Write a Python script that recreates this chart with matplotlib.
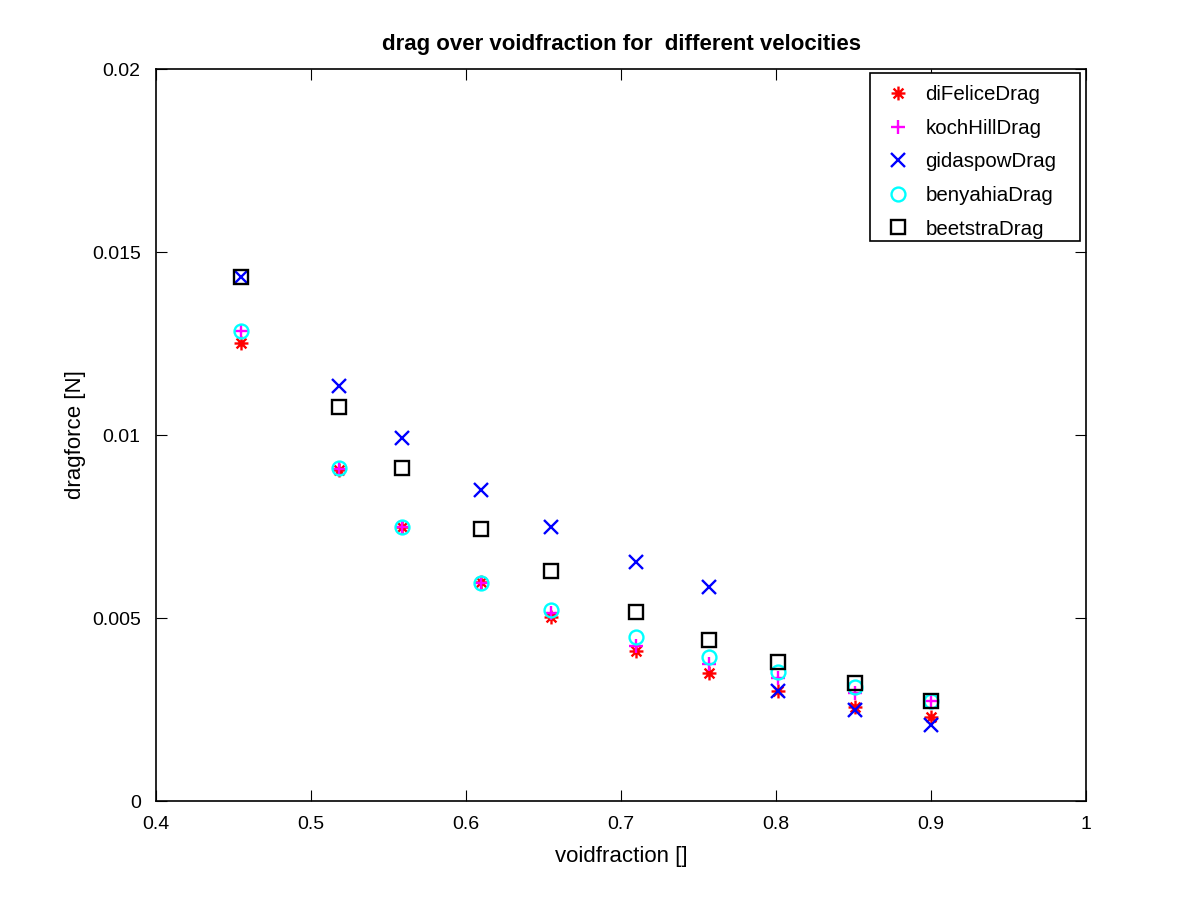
import matplotlib
matplotlib.use("Agg")
import matplotlib.pyplot as plt
from matplotlib.path import Path
from matplotlib.patches import Rectangle

plt.rcParams["font.family"] = ["Liberation Sans", "DejaVu Sans"]

voidfraction = [0.455, 0.518, 0.559, 0.610, 0.655, 0.710, 0.757, 0.801, 0.851, 0.900]

difelice = [0.01252, 0.00905, 0.00749, 0.00598, 0.00502, 0.00410, 0.00351, 0.00301, 0.00258, 0.00229]
kochhill = [0.01284, 0.00908, 0.00748, 0.00596, 0.00515, 0.00424, 0.00373, 0.00336, 0.00295, 0.00272]
gidaspow = [0.01432, 0.01134, 0.00991, 0.00850, 0.00749, 0.00652, 0.00586, 0.00301, 0.00249, 0.00208]
benyahia = [0.01284, 0.00910, 0.00749, 0.00596, 0.00522, 0.00449, 0.00394, 0.00352, 0.00312, 0.00273]
beetstra = [0.01432, 0.01077, 0.00910, 0.00742, 0.00628, 0.00517, 0.00440, 0.00381, 0.00322, 0.00273]

# octave style asterisk: plus and cross on top of each other
d = 0.707
asterisk = Path(
    [(-1, 0), (1, 0), (0, -1), (0, 1), (-d, -d), (d, d), (-d, d), (d, -d)],
    [Path.MOVETO, Path.LINETO] * 4,
)

series = [
    ("diFeliceDrag", difelice, asterisk, "red"),
    ("kochHillDrag", kochhill, "+", "magenta"),
    ("gidaspowDrag", gidaspow, "x", "blue"),
    ("benyahiaDrag", benyahia, "o", "cyan"),
    ("beetstraDrag", beetstra, "s", "black"),
]

fig = plt.figure(figsize=(12, 9), dpi=100)
ax = fig.add_axes([0.13, 0.11, 0.775, 0.8133])

for name, vals, marker, color in series:
    ax.plot(
        voidfraction,
        vals,
        linestyle="none",
        marker=marker,
        markersize=10,
        markeredgewidth=1.7,
        fillstyle="none",
        markeredgecolor=color,
        color=color,
        label=name,
    )

ax.set_xlim(0.4, 1.0)
ax.set_ylim(0, 0.02)
ax.set_xticks([0.4, 0.5, 0.6, 0.7, 0.8, 0.9, 1.0])
ax.set_xticklabels(["0.4", "0.5", "0.6", "0.7", "0.8", "0.9", "1"])
ax.set_yticks([0, 0.005, 0.01, 0.015, 0.02])
ax.set_yticklabels(["0", "0.005", "0.01", "0.015", "0.02"])
ax.tick_params(direction="in", top=True, right=True, length=8, labelsize=14, pad=11)
for spine in ax.spines.values():
    spine.set_linewidth(1.2)

ax.set_xlabel("voidfraction []", fontsize=16, labelpad=9)
ax.set_ylabel("dragforce [N]", fontsize=16, labelpad=4)
ax.set_title("drag over voidfraction for  different velocities", fontsize=16, fontweight="bold", pad=14)

# octave draws a wider legend box than the entries need, so the frame is its own patch
box_left, box_right, box_bottom, box_top = 0.7677, 0.9935, 0.765, 0.9945
frame = Rectangle(
    (box_left, box_bottom),
    box_right - box_left,
    box_top - box_bottom,
    transform=ax.transAxes,
    facecolor="white",
    edgecolor="black",
    linewidth=1.2,
    zorder=4,
)
ax.add_patch(frame)

leg = ax.legend(
    loc="upper left",
    bbox_to_anchor=(box_left, 0.9904),
    borderaxespad=0,
    fontsize=14.8,
    frameon=False,
    borderpad=0.45,
    labelspacing=0.71,
    handletextpad=0.45,
    handlelength=1.8,
)
leg.set_zorder(5)

fig.savefig("out.png", dpi=100)
